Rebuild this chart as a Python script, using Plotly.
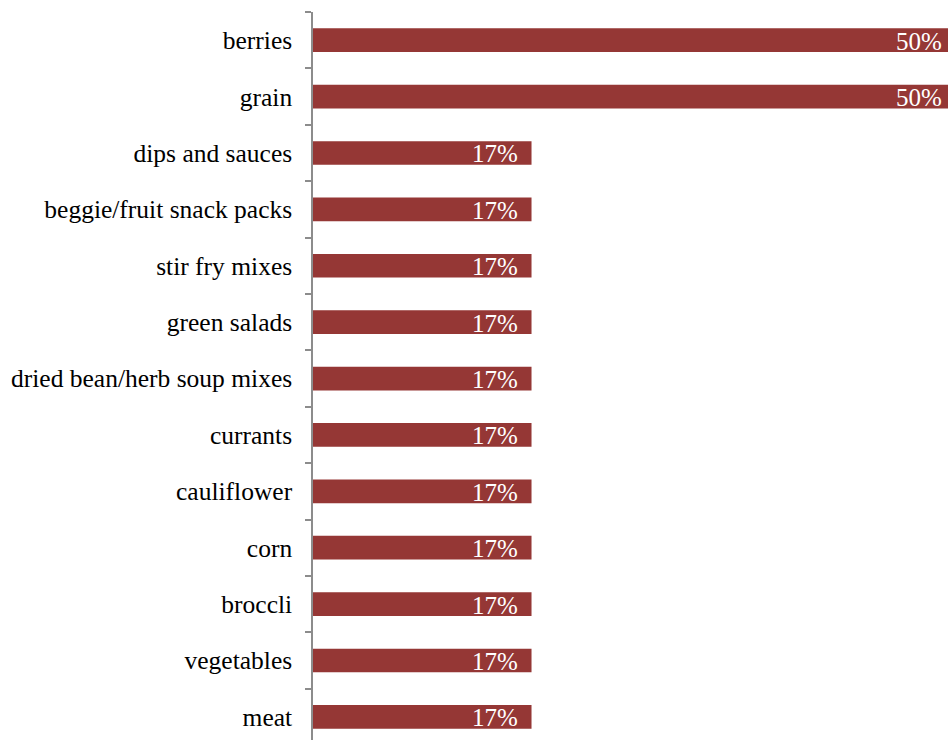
import plotly.graph_objects as go

categories = [
    "berries", "grain", "dips and sauces", "beggie/fruit snack packs",
    "stir fry mixes", "green salads", "dried bean/herb soup mixes",
    "currants", "cauliflower", "corn", "broccli", "vegetables", "meat",
]
percent = [50, 50, 17, 17, 17, 17, 17, 17, 17, 17, 17, 17, 17]

BAR = "#953735"
FONT = "Liberation Serif, Times New Roman, serif"

X_MAX = 49.4                      # visible end of the value axis
PLOT_W = 948 - 313                # plot area width in px
PX_PER_UNIT = PLOT_W / X_MAX
LABEL_PAD = 12                    # gap between label and bar end

fig = go.Figure(
    go.Bar(
        x=percent,
        y=categories,
        orientation="h",
        marker=dict(color=BAR, line=dict(width=0)),
        width=0.42,
        cliponaxis=True,
    )
)

# value labels just inside the end of each bar; bars running past the
# visible range keep their label placed relative to the true bar end
for cat, val in zip(categories, percent):
    anchor_x = min(val, X_MAX)
    overshoot_px = (val - anchor_x) * PX_PER_UNIT
    fig.add_annotation(
        x=anchor_x,
        y=cat,
        xref="x",
        yref="y",
        text=f"{val}%",
        showarrow=False,
        xanchor="right",
        yanchor="middle",
        xshift=overshoot_px - LABEL_PAD,
        yshift=-1,
        font=dict(family=FONT, size=25, color="white"),
    )

fig.update_layout(
    width=948,
    height=740,
    margin=dict(l=313, r=0, t=12, b=0),
    paper_bgcolor="white",
    plot_bgcolor="white",
    showlegend=False,
    font=dict(family=FONT, size=25, color="black"),
)

fig.update_xaxes(
    range=[0, X_MAX],
    visible=False,
    showgrid=False,
    zeroline=False,
)

fig.update_yaxes(
    type="category",
    categoryorder="array",
    categoryarray=categories,
    range=[12.41, -0.5],
    showline=True,
    linecolor="#8c8c8c",
    linewidth=1.5,
    ticks="outside",
    tickson="boundaries",
    ticklen=6,
    tickcolor="#8c8c8c",
    tickwidth=1.5,
    ticklabelstandoff=14,
    tickfont=dict(family=FONT, size=25.5, color="black"),
    showgrid=False,
    zeroline=False,
)

fig.write_html("out.html")
